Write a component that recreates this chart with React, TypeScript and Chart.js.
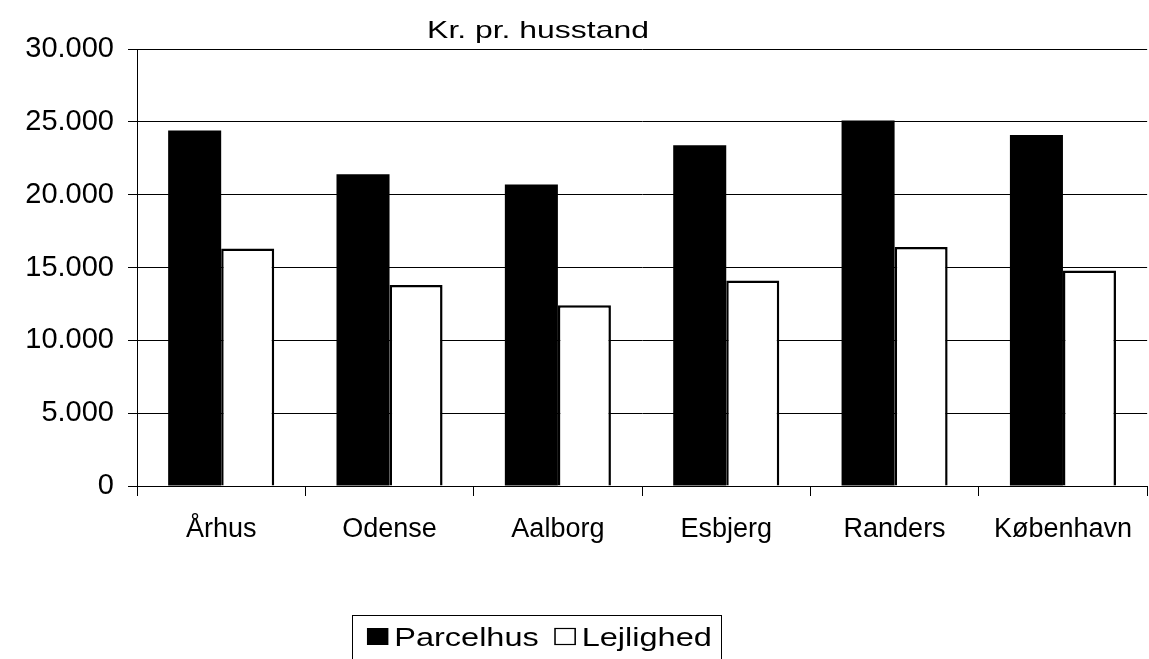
import React, { useEffect, useRef } from "react";
import { Chart, registerables } from "chart.js";

Chart.register(...registerables);

const categories = ["Århus", "Odense", "Aalborg", "Esbjerg", "Randers", "København"];
const parcelhus = [24400, 21400, 20700, 23400, 25100, 24100];
const lejlighed = [16300, 13800, 12400, 14100, 16400, 14800];
const seriesNames = ["Parcelhus", "Lejlighed"];
const subtitle = "Kr. pr. husstand";
const yMin = 0;
const yMax = 30000;
const yStep = 5000;

const FONT = "'Liberation Sans', Arial, Helvetica, sans-serif";

const fmt = (v: number) => {
  const s = Math.round(v).toString();
  return s.replace(/\B(?=(\d{3})+(?!\d))/g, ".");
};

const overlayPlugin = {
  id: "overlay",
  afterDraw(chart: any) {
    const ctx = chart.ctx as CanvasRenderingContext2D;
    // subtitle (horizontally stretched like the reference)
    ctx.save();
    ctx.fillStyle = "#000";
    ctx.font = `24px ${FONT}`;
    ctx.textAlign = "center";
    ctx.textBaseline = "alphabetic";
    ctx.translate(538, 0);
    ctx.scale(1.33, 1);
    ctx.fillText(subtitle, 0, 38);
    ctx.restore();

    // legend box
    ctx.save();
    ctx.strokeStyle = "#000";
    ctx.lineWidth = 1;
    ctx.strokeRect(352.5, 615.5, 369, 80);
    ctx.restore();

    // legend items
    ctx.save();
    ctx.translate(352, 0);
    ctx.scale(1.3, 1);
    ctx.font = `25px ${FONT}`;
    ctx.textBaseline = "alphabetic";
    ctx.textAlign = "left";
    let x = 11.5;
    const ds = chart.data.datasets;
    ds.forEach((d: any) => {
      const sq = 16.5;
      if (d.backgroundColor === "#000") {
        ctx.fillStyle = "#000";
        ctx.fillRect(x, 628, sq, 17);
      } else {
        ctx.fillStyle = "#fff";
        ctx.fillRect(x, 628, sq, 17);
        ctx.strokeStyle = "#000";
        ctx.lineWidth = 1.2;
        ctx.strokeRect(x + 0.5, 628.5, sq - 1, 16);
      }
      x += sq + 4.5;
      ctx.fillStyle = "#000";
      ctx.fillText(d.label, x, 646);
      x += ctx.measureText(d.label).width + 12;
    });
    ctx.restore();
  },
};

export default function App() {
  const ref = useRef<HTMLCanvasElement | null>(null);

  useEffect(() => {
    document.body.style.margin = "0";
    if (!ref.current) return;
    const chart = new Chart(ref.current, {
      type: "bar",
      data: {
        labels: categories,
        datasets: [
          {
            label: seriesNames[0],
            data: parcelhus,
            backgroundColor: "#000",
            borderColor: "#000",
            borderWidth: 0,
            categoryPercentage: 0.63,
            barPercentage: 1,
          },
          {
            label: seriesNames[1],
            data: lejlighed,
            backgroundColor: "#fff",
            borderColor: "#000",
            borderWidth: 2.5,
            categoryPercentage: 0.63,
            barPercentage: 1,
          },
        ],
      },
      options: {
        animation: false,
        responsive: false,
        maintainAspectRatio: false,
        layout: { padding: { top: 49, left: 0, right: 0, bottom: 0 } },
        plugins: {
          legend: { display: false },
          title: { display: false },
          tooltip: { enabled: false },
        },
        scales: {
          y: {
            min: yMin,
            max: yMax,
            ticks: {
              stepSize: yStep,
              callback: (v: any) => fmt(Number(v)),
              color: "#000",
              font: { family: FONT, size: 29 },
              padding: 14,
            },
            grid: {
              color: "#000",
              lineWidth: 1,
              tickLength: 9,
              drawTicks: true,
            },
            border: { display: true, color: "#000", width: 1 },
            afterFit: (scale: any) => {
              scale.width = 137;
            },
          },
          x: {
            ticks: {
              color: "#000",
              font: { family: FONT, size: 27 },
              padding: 17,
              maxRotation: 0,
              autoSkip: false,
            },
            grid: {
              offset: true,
              drawOnChartArea: false,
              drawTicks: true,
              tickLength: 10,
              color: "#000",
              lineWidth: 1,
            },
            border: { display: true, color: "#000", width: 1 },
            afterFit: (scale: any) => {
              scale.height = 173;
            },
          },
        },
      },
      plugins: [overlayPlugin],
    });
    return () => chart.destroy();
  }, []);

  return (
    <div style={{ width: 1149, height: 659, overflow: "hidden", background: "#fff" }}>
      <canvas ref={ref} width={1149} height={659} style={{ display: "block" }} />
    </div>
  );
}
